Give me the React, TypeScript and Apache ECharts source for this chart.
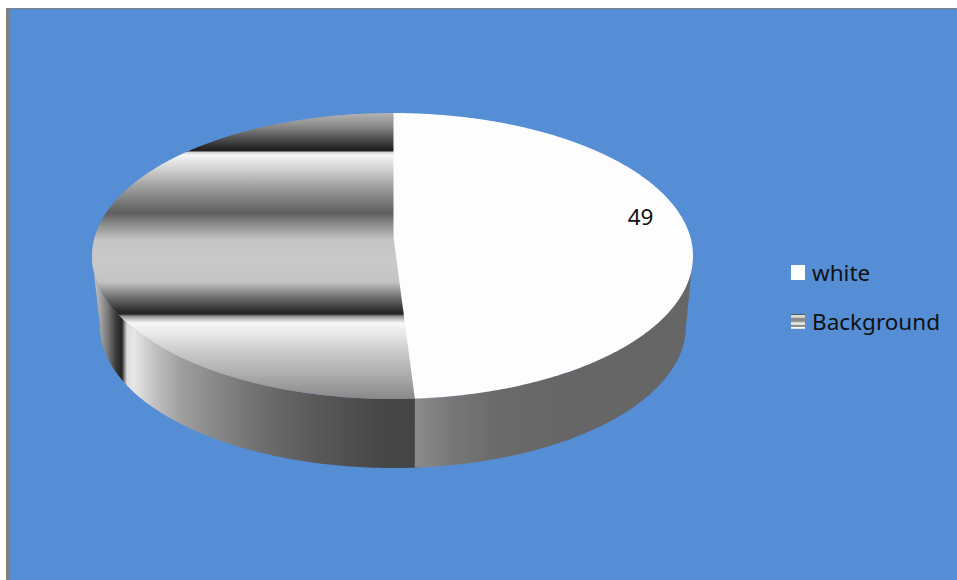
import React, { useEffect, useRef } from "react";
import * as echarts from "echarts";

// Chart data
const sliceNames = ["white", "Background"];
const whiteValues = [49];
const backgroundValues = [51];

// Disc geometry: top face, bottom rim and the projected centre of the top face
const TOP = { cx: 392.5, cy: 256, rx: 300.5, ry: 143 };
const BOTTOM = { cx: 393, cy: 326, rx: 293, ry: 142 };
const APEX = { x: 393.5, y: 237 };

const FRAME_BLUE = "#558ED5";
const FRAME_GREY = "#808080";
const WHITE_FACE = "#FDFDFD";
const TEXT_FONT = "'Noto Sans'";
const TEXT_SIZE = 22.5;

// Banded fill of the Background top face, [pageY, colour]
const backgroundFaceBands: [number, string][] = [
  [113, "#B4B4B4"], [125, "#8E8E8E"], [140, "#4A4A4A"], [149, "#222222"], [151, "#222222"],
  [152, "#CFCFCF"], [155, "#F6F6F6"], [165, "#DCDCDC"], [178, "#B8B8B8"], [195, "#8A8A8A"],
  [213, "#5E5E5E"], [225, "#8E8E8E"], [240, "#C4C4C4"], [260, "#C9C9C9"], [282, "#C4C4C4"],
  [295, "#7C7C7C"], [308, "#3A3A3A"], [314, "#222222"], [316, "#8A8A8A"], [319, "#BFBFBF"],
  [323, "#F8F8F8"], [335, "#E6E6E6"], [352, "#CACACA"], [375, "#ACACAC"], [398, "#8A8A8A"],
];

// Shading of the rim, [pageX, colour]
const backgroundRimShades: [number, string][] = [
  [92, "#CFCFCF"], [100, "#A6A6A6"], [108, "#777777"], [116, "#3A3A3A"], [122, "#222222"],
  [124, "#777777"], [127, "#DDDDDD"], [134, "#E6E6E6"], [155, "#C0C0C0"], [180, "#A0A0A0"],
  [215, "#888888"], [250, "#747474"], [290, "#626262"], [330, "#555555"], [375, "#484848"],
  [415, "#444444"],
];
const whiteRimShades: [number, string][] = [
  [415, "#8C8C8C"], [450, "#787878"], [500, "#6A6A6A"], [560, "#666666"], [693, "#666666"],
];

// Striped swatch shown for Background in the legend, [offset, colour]
const backgroundSwatchStripes: [number, string][] = [
  [0, "#555555"], [0.07, "#555555"], [0.07, "#E4E4E4"], [0.24, "#C8C8C8"], [0.3, "#8A8A8A"],
  [0.48, "#8A8A8A"], [0.55, "#CCCCCC"], [0.68, "#F4F4F4"], [0.76, "#8E8E8E"], [0.84, "#8E8E8E"],
  [0.88, "#FFFFFF"], [1, "#D8D8D8"],
];

const DEG = Math.PI / 180;
// The Background slice runs slightly under the white one so no seam shows between them
const SEAM_OVERLAP = 0.6 * DEG;

const verticalGradient = (stops: [number, string][]) => {
  const y0 = stops[0][0];
  const y1 = stops[stops.length - 1][0];
  return {
    type: "linear", global: true, x: 0, y: y0, x2: 0, y2: y1,
    colorStops: stops.map(([y, color]) => ({ offset: (y - y0) / (y1 - y0), color })),
  };
};

const horizontalGradient = (stops: [number, string][]) => {
  const x0 = stops[0][0];
  const x1 = stops[stops.length - 1][0];
  return {
    type: "linear", global: true, x: x0, y: 0, x2: x1, y2: 0,
    colorStops: stops.map(([x, color]) => ({ offset: (x - x0) / (x1 - x0), color })),
  };
};

const onEllipse = (e: typeof TOP, t: number): [number, number] => [
  e.cx + e.rx * Math.sin(t),
  e.cy - e.ry * Math.cos(t),
];

// Ellipse parameter hit by the ray leaving the projected centre at pie angle `theta`
const faceAngle = (theta: number) => {
  const dx = TOP.rx * Math.sin(theta);
  const dy = -TOP.ry * Math.cos(theta);
  const ox = APEX.x - TOP.cx;
  const oy = APEX.y - TOP.cy;
  const a = (dx * dx) / (TOP.rx * TOP.rx) + (dy * dy) / (TOP.ry * TOP.ry);
  const b = 2 * ((ox * dx) / (TOP.rx * TOP.rx) + (oy * dy) / (TOP.ry * TOP.ry));
  const c = (ox * ox) / (TOP.rx * TOP.rx) + (oy * oy) / (TOP.ry * TOP.ry) - 1;
  const s = (-b + Math.sqrt(b * b - 4 * a * c)) / (2 * a);
  const x = APEX.x + s * dx;
  const y = APEX.y + s * dy;
  const t = Math.atan2((x - TOP.cx) / TOP.rx, -(y - TOP.cy) / TOP.ry);
  return t < 0 ? t + 2 * Math.PI : t;
};

const sampleArc = (e: typeof TOP, from: number, to: number) => {
  const pts: [number, number][] = [];
  const n = Math.max(2, Math.ceil(Math.abs(to - from) / (0.5 * DEG)));
  for (let i = 0; i <= n; i++) pts.push(onEllipse(e, from + ((to - from) * i) / n));
  return pts;
};

const rimPolygon = (from: number, to: number) => [
  ...sampleArc(TOP, from, to),
  ...sampleArc(BOTTOM, to, from),
];

const total = whiteValues[0] + backgroundValues[0];

const renderWhite = (_: unknown, api: any) => {
  const value = api.value(0);
  const end = faceAngle((value / total) * 2 * Math.PI);
  const start = faceAngle(0);
  return {
    type: "group",
    children: [
      {
        type: "polygon",
        shape: { points: rimPolygon(90 * DEG, end) },
        style: { fill: horizontalGradient(whiteRimShades) },
      },
      {
        type: "polygon",
        shape: { points: [[APEX.x, APEX.y], ...sampleArc(TOP, start, end)] },
        style: { fill: WHITE_FACE },
      },
      {
        type: "text",
        style: {
          text: String(value),
          x: 640.5,
          y: 216,
          align: "center",
          verticalAlign: "middle",
          font: `${TEXT_SIZE}px ${TEXT_FONT}`,
          fill: "#111111",
        },
      },
    ],
  };
};

const renderBackground = (_: unknown, api: any) => {
  const value = api.value(0);
  const start = faceAngle(((total - value) / total) * 2 * Math.PI);
  return {
    type: "group",
    children: [
      {
        type: "polygon",
        shape: { points: rimPolygon(start - SEAM_OVERLAP, 270 * DEG) },
        style: { fill: horizontalGradient(backgroundRimShades) },
      },
      {
        type: "polygon",
        shape: {
          points: [
            [APEX.x + 1.5, APEX.y],
            ...sampleArc(TOP, start - SEAM_OVERLAP, 2 * Math.PI + SEAM_OVERLAP),
          ],
        },
        style: { fill: verticalGradient(backgroundFaceBands) },
      },
    ],
  };
};

export default function App() {
  const ref = useRef<HTMLDivElement>(null);

  useEffect(() => {
    const chart = echarts.init(ref.current!, null, { renderer: "svg" });
    chart.setOption({
      animation: false,
      backgroundColor: "#FFFFFF",
      graphic: [
        { type: "rect", z: -2, shape: { x: 6, y: 8, width: 951, height: 572 }, style: { fill: FRAME_GREY } },
        { type: "rect", z: -1, shape: { x: 9, y: 9, width: 948, height: 571 }, style: { fill: FRAME_BLUE } },
      ],
      legend: {
        orient: "vertical",
        left: 786,
        top: 256,
        itemWidth: 14,
        itemHeight: 15,
        itemGap: 26,
        selectedMode: false,
        textStyle: { fontFamily: "Noto Sans", fontSize: TEXT_SIZE, color: "#111111", padding: [0, 0, 0, 2] },
        data: [
          { name: sliceNames[0], icon: "rect", itemStyle: { color: WHITE_FACE } },
          {
            name: sliceNames[1],
            icon: "rect",
            itemStyle: {
              color: new echarts.graphic.LinearGradient(
                0, 0, 0, 1,
                backgroundSwatchStripes.map(([offset, color]) => ({ offset, color })),
              ),
            },
          },
        ],
      },
      series: [
        { type: "custom", name: sliceNames[1], coordinateSystem: "none", data: backgroundValues, renderItem: renderBackground },
        { type: "custom", name: sliceNames[0], coordinateSystem: "none", data: whiteValues, renderItem: renderWhite },
      ],
    });
    return () => chart.dispose();
  }, []);

  return <div ref={ref} style={{ position: "fixed", left: 0, top: 0, width: 957, height: 580 }} />;
}
